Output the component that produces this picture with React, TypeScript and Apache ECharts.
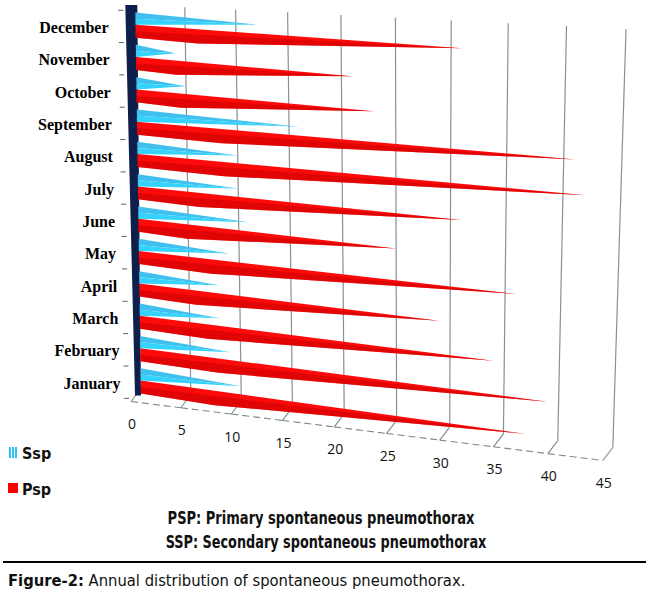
import React, { useEffect, useRef } from "react";
import * as echarts from "echarts";

// ---------- data ----------
const categories = ["January", "February", "March", "April", "May", "June", "July", "August", "September", "October", "November", "December"];
const sspValues = [10, 9, 8, 8, 9, 11, 10, 10, 16, 5, 4, 12];
const pspValues = [37, 39, 34, 29, 36, 25, 31, 42, 41, 23, 21, 31];
const valueTicks = [0, 5, 10, 15, 20, 25, 30, 35, 40, 45];
const seriesNames = ["Ssp", "Psp"];
const captionLines = ["PSP: Primary spontaneous pneumothorax", "SSP: Secondary spontaneous pneumothorax"];
const figureLabel = "Figure-2:";
const figureText = " Annual distribution of spontaneous pneumothorax.";

const VMAX = 45;
const NCAT = 12;
const SANS = "'DejaVu Sans Condensed', sans-serif";

// ---------- perspective projection (applied to the flat cartesian coords) ----------
function Xv(v: number) { return 141 + 9.9 * v + 0.013 * v * v; }
function lean(v: number) { return 0.012 * (v - 5) * (v - 5) - 6; }
function projWall(v: number, t: number) {
  const x = Xv(v) + (1 - t) * lean(v);
  const yT = 5 + 0.049 * (x - 137);
  const yB = 388 + 0.125 * (x - 137);
  return [x, yT + t * (yB - yT)];
}
function projBar(v: number, t: number) {
  const x = Xv(v) + (1 - t) * lean(v);
  const yT = 10 + 0.048 * (x - 130);
  const yB = 397 + 0.124 * (x - 130);
  return [x, yT + t * (yB - yT)];
}
const DEPTH = [-10, 13];

function flat(api: any, params: any, v: number, h: number) {
  const p = api.coord([v, h]);
  const cs = params.coordSys;
  return [((p[0] - cs.x) / cs.width) * VMAX, (p[1] - cs.y) / cs.height];
}

function pyramidRender(lo: number, hi: number, topColor: string, botColor: string, knee: boolean) {
  return (params: any, api: any) => {
    const v = api.value(0);
    const c = api.value(1);
    const [b0, tTop] = flat(api, params, 0, c + hi);
    const [, tMid] = flat(api, params, 0, c + (lo + hi) / 2);
    const [, tBot] = flat(api, params, 0, c + lo);
    const [vt] = flat(api, params, v, c);
    const A = projBar(b0, tTop);
    const B = projBar(b0, tMid);
    const C = projBar(b0, tBot);
    const T = projBar(vt, tMid);
    if (!knee) {
      return {
        type: "group",
        children: [
          { type: "polygon", shape: { points: [A, B, T] }, style: { fill: topColor } },
          { type: "polygon", shape: { points: [B, C, T] }, style: { fill: botColor } },
        ],
      };
    }
    // front-bottom corner of the pyramid base, seen through the depth
    const D = [C[0] - 4, C[1] + 4.5];
    const f = 0.2;
    const K = [D[0] + (T[0] - D[0]) * f, D[1] + (T[1] - D[1]) * f];
    return {
      type: "group",
      children: [
        { type: "polygon", shape: { points: [A, T, K, C] }, style: { fill: topColor } },
        { type: "polygon", shape: { points: [B, T, K, C] }, style: { fill: botColor, opacity: 0.55 } },
      ],
    };
  };
}

function buildOption() {
  return {
    animation: false,
    backgroundColor: "#ffffff",
    grid: { left: 50, top: 50, width: 450, height: 360, show: false },
    xAxis: { type: "value", min: 0, max: VMAX, show: false },
    yAxis: { type: "value", min: 0, max: NCAT, show: false },
    series: [
      {
        type: "custom",
        name: "wall",
        silent: true,
        z: 1,
        data: valueTicks.map((v) => [v, 0]),
        renderItem: (params: any, api: any) => {
          const v = api.value(0);
          const idx = params.dataIndex;
          const [vv, t0] = flat(api, params, v, NCAT);
          const [, t1] = flat(api, params, v, 0);
          const top = projWall(vv, t0);
          const bot = projWall(vv, t1);
          const front = [bot[0] + DEPTH[0], bot[1] + DEPTH[1]];
          const children: any[] = [];
          if (v > 0) {
            children.push({ type: "line", shape: { x1: top[0], y1: top[1], x2: bot[0], y2: bot[1] }, style: { stroke: "#8a8f8f", lineWidth: 1.2 } });
          }
          children.push({ type: "line", shape: { x1: bot[0], y1: bot[1], x2: front[0], y2: front[1] }, style: { stroke: "#7c8a8a", lineWidth: 1.1 } });
          if (idx < valueTicks.length - 1) {
            const [vn, tn] = flat(api, params, valueTicks[idx + 1], 0);
            const bn = projWall(vn, tn);
            const fn = [bn[0] + DEPTH[0], bn[1] + DEPTH[1]];
            children.push({ type: "line", shape: { x1: front[0], y1: front[1], x2: fn[0], y2: fn[1] }, style: { stroke: "#7c8a8a", lineWidth: 1.1, lineDash: [7, 4] } });
          }
          children.push({
            type: "text",
            x: front[0] + 1,
            y: front[1] + 22,
            style: { text: String(v), fill: "#111", font: "14px 'Open Sans', sans-serif", align: "center", verticalAlign: "middle" },
          });
          return { type: "group", children };
        },
      },
      {
        type: "custom",
        name: "axisWall",
        silent: true,
        z: 2,
        data: [[0, 0]],
        renderItem: (params: any, api: any) => {
          const [v0, tT] = flat(api, params, 0, NCAT);
          const [, tB] = flat(api, params, 0, 0);
          const pT = projWall(v0, tT);
          const pB = projWall(v0, tB);
          const children: any[] = [
            {
              type: "polygon",
              shape: { points: [[pT[0] - 10, pT[1]], [pT[0] + 2, pT[1]], [pB[0], pB[1] + 7], [pB[0] - 6, pB[1] + 7]] },
              style: { fill: "#0f1f4c" },
            },
          ];
          for (let c = 0; c <= NCAT; c++) {
            const [, tc] = flat(api, params, 0, c);
            const p = projBar(v0, tc);
            const lx = p[0] - 12;
            children.push({ type: "line", shape: { x1: lx - 5, y1: p[1], x2: lx, y2: p[1] }, style: { stroke: "#5a6070", lineWidth: 1 } });
          }
          return { type: "group", children };
        },
      },
      {
        type: "custom",
        name: "categoryLabels",
        silent: true,
        z: 2,
        data: categories.map((_, i) => [0, i]),
        renderItem: (params: any, api: any) => {
          const i = api.value(1);
          const [v0, t] = flat(api, params, 0, i + 0.5);
          const p = projBar(v0, t);
          return {
            type: "text",
            x: 108 + 13 * t,
            y: p[1] + 1,
            style: { text: categories[i], fill: "#000", font: "bold 16px 'Liberation Serif', 'Times New Roman', serif", align: "right", verticalAlign: "middle" },
          };
        },
      },
      {
        type: "custom",
        name: seriesNames[1],
        silent: true,
        z: 3,
        data: pspValues.map((v, i) => [v, i]),
        renderItem: pyramidRender(0.15, 0.55, "#ff0a0a", "#c80000", true),
      },
      {
        type: "custom",
        name: seriesNames[0],
        silent: true,
        z: 3,
        data: sspValues.map((v, i) => [v, i]),
        renderItem: pyramidRender(0.55, 0.93, "#3fc0ee", "#35d3fb", false),
      },
    ],
    graphic: [
      { type: "rect", shape: { x: 9, y: 447, width: 2, height: 11 }, style: { fill: "#29c6f2" } },
      { type: "rect", shape: { x: 12, y: 447, width: 2, height: 11 }, style: { fill: "#29c6f2" } },
      { type: "rect", shape: { x: 15, y: 447, width: 2, height: 11 }, style: { fill: "#29c6f2" } },
      { type: "text", x: 22, y: 453, style: { text: seriesNames[0], fill: "#111", font: `bold 16px ${SANS}`, verticalAlign: "middle" } },
      { type: "rect", shape: { x: 8, y: 483, width: 10, height: 10 }, style: { fill: "#ff0000" } },
      { type: "text", x: 22, y: 489, style: { text: seriesNames[1], fill: "#111", font: `bold 16px ${SANS}`, verticalAlign: "middle" } },
      { type: "text", x: 321, y: 518, scaleX: 0.853, style: { text: captionLines[0], fill: "#111", font: `bold 17px ${SANS}`, align: "center", verticalAlign: "middle" } },
      { type: "text", x: 326, y: 542, scaleX: 0.84, style: { text: captionLines[1], fill: "#111", font: `bold 17px ${SANS}`, align: "center", verticalAlign: "middle" } },
      { type: "line", shape: { x1: 3, y1: 562, x2: 646, y2: 562 }, style: { stroke: "#000", lineWidth: 2 } },
      {
        type: "text",
        x: 8,
        y: 581,
        scaleX: 1.027,
        style: {
          text: `{b|${figureLabel}}{n|${figureText}}`,
          verticalAlign: "middle",
          rich: {
            b: { font: `bold 16px ${SANS}`, fill: "#111" },
            n: { font: `16px ${SANS}`, fill: "#111" },
          },
        },
      },
    ],
  };
}

const App = () => {
  const ref = useRef<HTMLDivElement>(null);
  useEffect(() => {
    const chart = echarts.init(ref.current as HTMLDivElement, null, { renderer: "svg" });
    chart.setOption(buildOption() as any);
    return () => chart.dispose();
  }, []);
  return <div ref={ref} style={{ position: "fixed", left: 0, top: 0, width: 650, height: 594, background: "#fff" }} />;
};

export default App;
